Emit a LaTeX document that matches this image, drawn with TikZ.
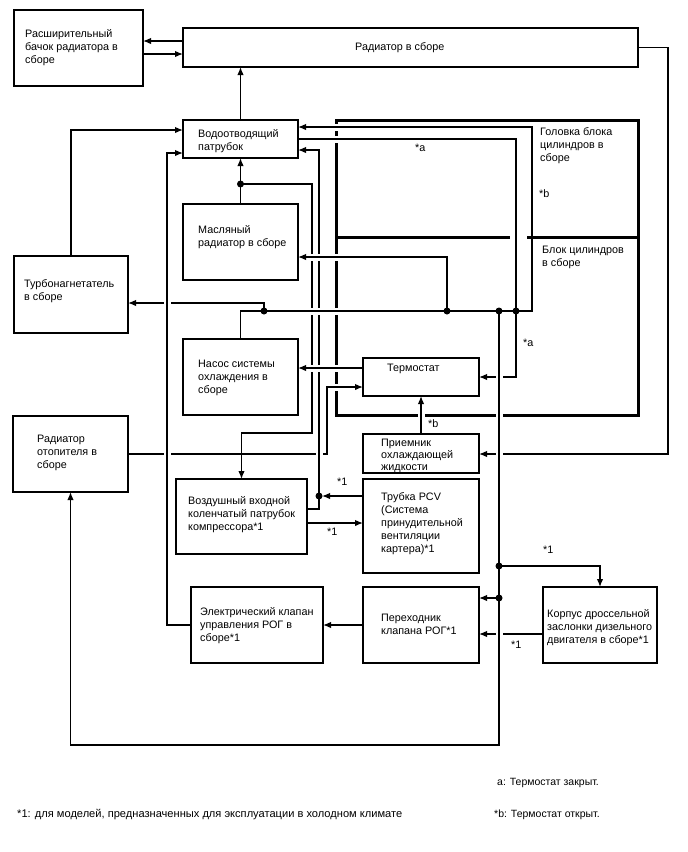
\documentclass[tikz,border=0pt]{standalone}
\usepackage{fontspec}
\setmainfont{Liberation Sans}
\usetikzlibrary{arrows.meta}
\newcommand{\ml}[1]{\begin{tabular}[t]{@{}l@{}}#1\end{tabular}}
\newcommand{\hgap}[2]{\fill[white] (#1-3.5,#2-1.7) rectangle (#1+3.5,#2+1.7); \draw[conn] (#1,#2-2.5) -- (#1,#2+2.5);}
\newcommand{\hgapT}[2]{\fill[white] (#1-3.5,#2-2.7) rectangle (#1+3.5,#2+2.7); \draw[conn] (#1,#2-3.5) -- (#1,#2+3.5);}
\newcommand{\vgap}[2]{\fill[white] (#1-1.7,#2-3.5) rectangle (#1+1.7,#2+3.5); \draw[conn] (#1-2.5,#2) -- (#1+2.5,#2);}
\newcommand{\vgapT}[2]{\fill[white] (#1-2.7,#2-3.5) rectangle (#1+2.7,#2+3.5); \draw[conn] (#1-3.5,#2) -- (#1+3.5,#2);}
\tikzset{
  box/.style={draw, line width=1.4pt, anchor=north west, inner sep=0pt, outer sep=0pt},
  txt/.style={anchor=base west, inner sep=0pt, font=\fontsize{10.8}{13}\selectfont},
  conn/.style={line width=1.4pt},
  arr/.style={conn, -{Latex[length=8pt,width=6.5pt]}},
  dot/.style={circle, fill, inner sep=0pt, minimum size=7pt},
}
\begin{document}
\begin{tikzpicture}[x=1pt,y=-1pt]
\useasboundingbox[fill=white] (0,0) rectangle (688,852);
% engine block
\node[box, line width=3pt, minimum width=302pt, minimum height=295pt] (eng) at (336,120) {};
\draw[line width=3pt] (eng.west |- 0,237) -- (eng.east |- 0,237);
% boxes
\node[box, minimum width=129pt, minimum height=76pt] (tank) at (14,10) {};
\node[box, minimum width=455pt, minimum height=39pt] (rad) at (183,28) {};
\node[box, minimum width=115pt, minimum height=38pt] (wv) at (183,120) {};
\node[box, minimum width=115pt, minimum height=76pt] (oil) at (183,204) {};
\node[box, minimum width=114pt, minimum height=77pt] (turbo) at (14,256) {};
\node[box, minimum width=115pt, minimum height=76pt] (pump) at (183,339) {};
\node[box, minimum width=116pt, minimum height=38pt] (thermo) at (363,358) {};
\node[box, minimum width=115pt, minimum height=76pt] (heater) at (13,416) {};
\node[box, minimum width=116pt, minimum height=39pt] (rcv) at (363,434) {};
\node[box, minimum width=131pt, minimum height=75pt] (air) at (176,479) {};
\node[box, minimum width=116pt, minimum height=94pt] (pcv) at (363,479) {};
\node[box, minimum width=132pt, minimum height=76pt] (egr) at (191,587) {};
\node[box, minimum width=116pt, minimum height=76pt] (adp) at (363,587) {};
\node[box, minimum width=114pt, minimum height=76pt] (thr) at (543,587) {};
% junctions
\coordinate (jH) at (240.5,184);
\coordinate (jT) at (264,311);
\coordinate (jO) at (447,311);
\coordinate (jP) at (499,311);
\coordinate (jB) at (516,311);
\coordinate (jI) at (319,496);
\coordinate (jQ) at (499,566);
\coordinate (jR) at (499,598);
% connectors
\draw[arr] (rad.west |- 0,41) -- (tank.east |- 0,41);
\draw[arr] (tank.east |- 0,54) -- (rad.west |- 0,54);
\draw[arr] (wv.north) -- (wv.north |- rad.south);
\draw[arr] (turbo.north) |- (wv.west |- 0,130);
\draw[arr] (egr.west) -| (167,153) -- (wv.west |- 0,153);
\draw[arr] (oil.north) -- (wv.south);
\draw[arr] (jH) -| (312,433) -| (air.north);
\draw[arr] (pump.north) |- (532,311) |- (wv.east |- 0,127);
\draw[arr] (wv.east |- 0,139) -| (516,377) -- (thermo.east |- 0,377);
\draw[arr, shorten >=3pt] (pcv.west |- 0,496) -- (jI);
\draw[arr] (air.east |- 0,509) -| (319,150) -- (wv.east |- 0,150);
\draw[arr] (air.east |- 0,523) -- (pcv.west |- 0,523);
\draw[arr] (heater.east) -| (327,387) -- (thermo.west |- 0,387);
\draw[arr] (rad.east) -| (668,454) -- (rcv.east |- 0,454);
\draw[arr] (rcv.north) -- (thermo.south);
\draw[arr] (thermo.west |- 0,368) -- (pump.east |- 0,368);
\draw[arr] (jT) |- (turbo.east |- 0,303);
\draw[arr] (jO) |- (oil.east |- 0,257);
\draw[arr] (jP) -- (499,745) -| (heater.south);
\draw[arr] (jQ) -| (thr.north);
\draw[arr] (jR) -- (adp.east |- jR);
\draw[arr] (thr.west |- 0,634) -- (adp.east |- 0,634);
\draw[arr] (adp.west) -- (egr.east |- adp.west);
% crossings
\hgap{167}{303} \hgap{167}{454} \hgap{319}{454} \hgap{499}{454} \hgap{499}{634} \hgap{499}{377}
\vgapT{336}{127} \vgapT{336}{139} \vgapT{336}{257} \vgapT{336}{311} \vgapT{336}{368} \vgapT{336}{387}
\vgap{312}{257} \vgap{312}{311} \vgap{312}{368}
\vgap{319}{257} \vgap{319}{311} \vgap{319}{368}
\hgapT{421}{415} \hgapT{499}{415}
\fill[white] (510,234) rectangle (527,240);
\draw[conn] (516,233) -- (516,241);
% dots
\foreach \j in {jH,jT,jO,jP,jB,jI,jQ,jR} \node[dot] (d\j) at (\j) {};
% texts
\node[txt] (t-tank) at (25,37) {\ml{Расширительный\\бачок радиатора в\\сборе}};
\node[txt] (t-rad) at (355,50) {Радиатор в сборе};
\node[txt] (t-wv) at (198,137) {\ml{Водоотводящий\\патрубок}};
\node[txt] (t-oil) at (198,233) {\ml{Масляный\\радиатор в сборе}};
\node[txt] (t-turbo) at (24,287) {\ml{Турбонагнетатель\\в сборе}};
\node[txt] (t-pump) at (198,367) {\ml{Насос системы\\охлаждения в\\сборе}};
\node[txt] (t-thermo) at (387,371) {Термостат};
\node[txt] (t-head) at (540,135) {\ml{Головка блока\\цилиндров в\\сборе}};
\node[txt] (t-block) at (542,253) {\ml{Блок цилиндров\\в сборе}};
\node[txt] (t-heater) at (37,442) {\ml{Радиатор\\отопителя в\\сборе}};
\node[txt, font=\fontsize{10.8}{12}\selectfont] (t-rcv) at (381,446) {\ml{Приемник\\охлаждающей\\жидкости}};
\node[txt] (t-air) at (188,504) {\ml{Воздушный входной\\коленчатый патрубок\\компрессора*1}};
\node[txt] (t-pcv) at (381,500) {\ml{Трубка PCV\\(Система\\принудительной\\вентиляции\\картера)*1}};
\node[txt] (t-egr) at (200,615) {\ml{Электрический клапан\\управления РОГ в\\сборе*1}};
\node[txt] (t-adp) at (381,621) {\ml{Переходник\\клапана РОГ*1}};
\node[txt] (t-thr) at (547,617) {\ml{Корпус дроссельной\\заслонки дизельного\\двигателя в сборе*1}};
% labels
\node[txt] (la1) at (415,151) {*a};
\node[txt] (lb1) at (539,197) {*b};
\node[txt] (la2) at (523,346) {*a};
\node[txt] (lb2) at (428,427) {*b};
\node[txt] (l11) at (337,485) {*1};
\node[txt] (l12) at (327,535) {*1};
\node[txt] (l13) at (543,553) {*1};
\node[txt] (l14) at (511,648) {*1};
% legend
\node[txt, font=\fontsize{10.5}{13}\selectfont] (lg1) at (497,785) {a: Термостат закрыт.};
\node[txt, font=\fontsize{10.5}{13}\selectfont] (lg2) at (494,817) {*b: Термостат открыт.};
\node[txt, font=\fontsize{11.1}{13}\selectfont] (lg3) at (17,817) {*1: для моделей, предназначенных для эксплуатации в холодном климате};
\end{tikzpicture}
\end{document}
